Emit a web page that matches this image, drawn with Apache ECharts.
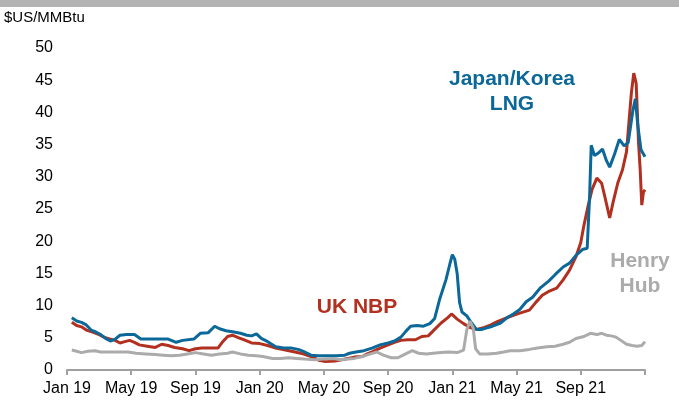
<!DOCTYPE html>
<html>
<head>
<meta charset="utf-8">
<script src="https://cdn.jsdelivr.net/npm/echarts@6/dist/echarts.min.js"></script>
<style>
html,body{margin:0;padding:0;background:#fff;}
#c{width:679px;height:401px;}
</style>
</head>
<body>
<div id="c"></div>
<script>
// x values are months since Jan 2019
const tickLabels = ['Jan 19','May 19','Sep 19','Jan 20','May 20','Sep 20','Jan 21','May 21','Sep 21',''];

const jkm = [[0.3,8.1],[0.6,7.6],[0.9,7.4],[1.2,7.0],[1.5,6.2],[1.8,5.9],[2.1,5.5],[2.4,4.9],[2.7,4.5],[3.0,4.8],[3.3,5.4],[3.7,5.5],[4.2,5.5],[4.6,4.8],[5.2,4.8],[5.8,4.8],[6.3,4.8],[6.8,4.3],[7.2,4.6],[7.9,4.8],[8.3,5.7],[8.8,5.8],[9.2,6.8],[9.5,6.4],[9.9,6.1],[10.4,5.9],[10.8,5.7],[11.2,5.4],[11.5,5.3],[11.8,5.6],[12.1,4.9],[12.5,4.4],[13.0,3.6],[13.5,3.4],[14.0,3.4],[14.4,3.2],[14.8,2.8],[15.2,2.3],[15.6,2.2],[16.2,2.2],[16.8,2.2],[17.3,2.3],[17.6,2.6],[18.0,2.8],[18.5,3.0],[19.0,3.4],[19.5,3.9],[20.0,4.2],[20.4,4.5],[20.8,5.1],[21.1,6.0],[21.4,6.8],[21.8,6.9],[22.2,6.8],[22.6,7.2],[22.9,8.0],[23.2,10.9],[23.6,14.0],[23.85,16.5],[24.0,17.9],[24.15,17.2],[24.3,15.0],[24.45,10.5],[24.6,9.0],[24.9,8.4],[25.2,7.3],[25.5,6.3],[25.8,6.3],[26.1,6.5],[26.5,6.8],[27.0,7.3],[27.4,8.1],[27.8,8.7],[28.2,9.4],[28.6,10.6],[29.0,11.3],[29.5,12.8],[30.0,13.8],[30.4,14.8],[30.9,16.0],[31.3,16.6],[31.7,17.8],[32.1,18.7],[32.4,18.9],[32.55,27.0],[32.65,34.9],[32.85,33.3],[33.1,33.7],[33.35,34.3],[33.6,32.5],[33.8,31.5],[34.1,33.5],[34.4,35.8],[34.7,34.8],[34.95,35.3],[35.1,37.8],[35.25,40.4],[35.4,42.1],[35.55,38.0],[35.75,34.2],[36.0,33.1]];

const nbp = [[0.3,7.4],[0.6,6.9],[0.9,6.7],[1.2,6.2],[1.6,5.9],[2.0,5.5],[2.4,5.0],[2.7,4.8],[3.0,4.6],[3.3,4.2],[3.6,4.4],[3.9,4.6],[4.2,4.3],[4.5,3.9],[5.0,3.7],[5.5,3.5],[5.9,4.0],[6.3,3.8],[6.7,3.5],[7.2,3.3],[7.6,3.0],[8.0,3.3],[8.4,3.4],[8.9,3.4],[9.4,3.4],[9.7,4.4],[10.0,5.2],[10.3,5.4],[10.7,5.0],[11.0,4.7],[11.5,4.2],[12.0,4.1],[12.5,3.8],[13.0,3.4],[13.6,3.1],[14.2,2.8],[14.7,2.5],[15.2,2.1],[15.7,1.5],[16.1,1.3],[16.7,1.4],[17.1,1.6],[17.5,1.8],[17.9,2.0],[18.4,2.1],[18.7,2.5],[19.0,2.8],[19.5,3.4],[20.0,3.9],[20.4,4.3],[20.8,4.6],[21.2,4.7],[21.7,4.7],[22.1,5.2],[22.5,5.3],[22.9,6.3],[23.3,7.3],[23.7,8.1],[23.95,8.7],[24.3,7.9],[24.7,7.2],[25.1,6.6],[25.5,6.3],[26.0,6.6],[26.4,7.0],[26.8,7.5],[27.3,8.0],[27.8,8.5],[28.3,8.9],[28.8,9.3],[29.2,10.5],[29.6,11.6],[30.0,12.2],[30.5,12.7],[30.9,14.0],[31.3,15.5],[31.7,17.6],[32.0,19.8],[32.2,22.5],[32.45,25.4],[32.7,28.0],[33.0,29.8],[33.3,29.0],[33.5,26.9],[33.8,23.6],[34.0,25.9],[34.3,29.0],[34.6,31.1],[34.85,33.9],[35.0,38.5],[35.15,43.0],[35.3,46.1],[35.45,44.5],[35.6,35.2],[35.7,31.1],[35.8,25.6],[35.9,27.6],[36.0,28.0]];

const hh = [[0.3,3.1],[0.6,2.9],[0.9,2.7],[1.3,2.9],[1.75,3.0],[2.1,2.8],[2.5,2.8],[3.0,2.8],[3.5,2.8],[3.8,2.8],[4.3,2.6],[4.9,2.5],[5.5,2.4],[6.0,2.3],[6.5,2.2],[7.0,2.3],[7.5,2.5],[8.0,2.7],[8.5,2.5],[9.0,2.3],[9.5,2.5],[10.0,2.6],[10.3,2.8],[10.8,2.5],[11.3,2.3],[11.8,2.2],[12.2,2.1],[12.8,1.8],[13.3,1.8],[13.8,1.9],[14.3,1.8],[14.8,1.7],[15.4,1.6],[16.0,1.7],[16.6,1.8],[17.0,1.6],[17.5,1.7],[17.9,1.8],[18.4,2.1],[18.9,2.5],[19.3,2.8],[19.7,2.3],[20.2,1.9],[20.6,1.9],[21.0,2.4],[21.5,3.0],[21.9,2.6],[22.4,2.5],[22.8,2.6],[23.3,2.7],[23.8,2.8],[24.3,2.7],[24.7,3.1],[24.9,6.2],[25.1,7.6],[25.3,6.5],[25.45,3.3],[25.7,2.5],[26.2,2.5],[26.75,2.6],[27.2,2.8],[27.6,3.0],[28.2,3.0],[28.8,3.2],[29.3,3.4],[29.9,3.6],[30.4,3.7],[30.9,4.0],[31.3,4.3],[31.7,4.9],[32.2,5.2],[32.6,5.7],[33.0,5.5],[33.3,5.7],[33.6,5.4],[33.9,5.3],[34.2,5.1],[34.5,4.6],[34.85,4.0],[35.2,3.8],[35.5,3.7],[35.8,3.8],[36.0,4.4]];

const FONT = '"Liberation Sans", Arial, sans-serif';
const BLUE = '#0b6898', RED = '#b2301f', GREY = '#ababab';

const chart = echarts.init(document.getElementById('c'), null, {renderer: 'canvas'});
chart.setOption({
  animation: false,
  backgroundColor: '#fff',
  grid: {left: 67, right: 34, top: 48, bottom: 31, containLabel: false},
  xAxis: {
    type: 'value', min: 0, max: 36, interval: 4,
    axisLine: {show: true, lineStyle: {color: '#a0a0a0', width: 2}},
    axisTick: {show: true, length: 5, lineStyle: {color: '#a0a0a0', width: 2}},
    splitLine: {show: false},
    axisLabel: {
      margin: 11, color: '#000', fontSize: 16, fontFamily: FONT,
      formatter: v => tickLabels[Math.round(v / 4)] || ''
    }
  },
  yAxis: {
    type: 'value', min: 0, max: 50, interval: 5,
    axisLine: {show: false}, axisTick: {show: false}, splitLine: {show: false},
    axisLabel: {margin: 14, color: '#000', fontSize: 16, fontFamily: FONT}
  },
  series: [
    {name: 'UK NBP', type: 'line', data: nbp, showSymbol: false, symbol: 'none',
     lineStyle: {color: RED, width: 3}, z: 2},
    {name: 'Japan/Korea LNG', type: 'line', data: jkm, showSymbol: false, symbol: 'none',
     lineStyle: {color: BLUE, width: 3}, z: 3},
    {name: 'Henry Hub', type: 'line', data: hh, showSymbol: false, symbol: 'none',
     lineStyle: {color: GREY, width: 3}, z: 4}
  ],
  graphic: [
    {type: 'rect', left: 0, top: 0, shape: {width: 679, height: 7}, style: {fill: '#b3b3b3'}},
    {type: 'text', left: 4, top: 10, style: {text: '$US/MMBtu', fill: '#000', font: '15px ' + FONT}},
    {type: 'text', x: 512, y: 92, style: {text: 'Japan/Korea\nLNG', fill: BLUE, font: 'bold 21px ' + FONT, align: 'center', verticalAlign: 'middle', lineHeight: 25}},
    {type: 'text', x: 357, y: 307, style: {text: 'UK NBP', fill: RED, font: 'bold 21px ' + FONT, align: 'center', verticalAlign: 'middle'}},
    {type: 'text', x: 640, y: 274, style: {text: 'Henry\nHub', fill: GREY, font: 'bold 21px ' + FONT, align: 'center', verticalAlign: 'middle', lineHeight: 25}}
  ]
});
</script>
</body>
</html>
